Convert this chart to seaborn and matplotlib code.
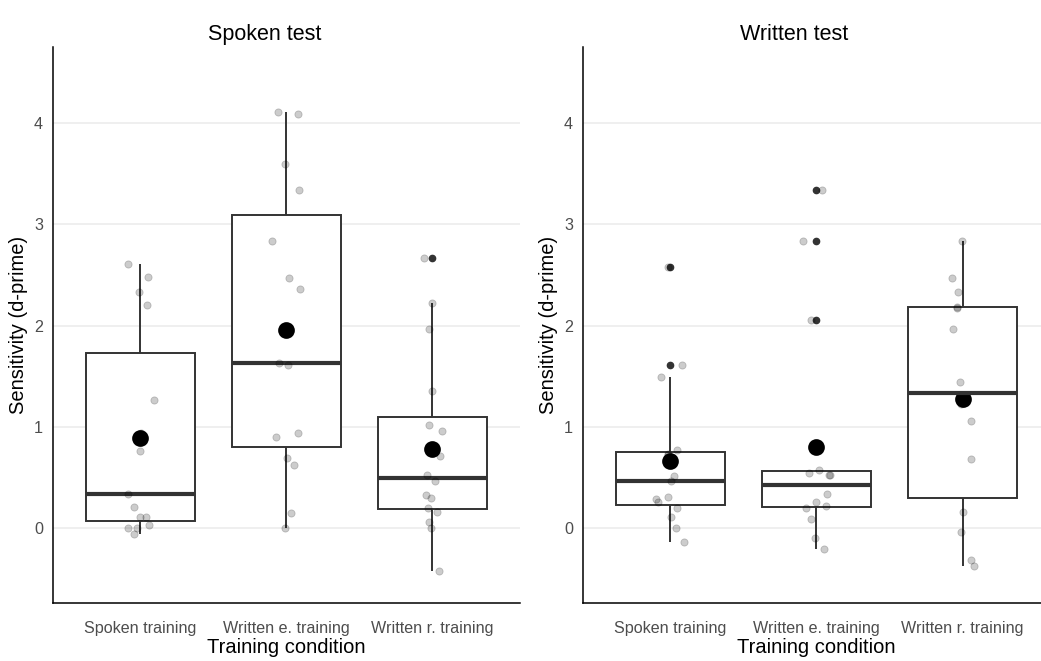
# Sensitivity (d-prime) per training condition, spoken vs written test
import numpy as np
import pandas as pd
import matplotlib
matplotlib.use("Agg")
import matplotlib.pyplot as plt
import seaborn as sns

conditions = ["Spoken training", "Written e. training", "Written r. training"]
tests = ["Spoken test", "Written test"]

# d-prime values, one list per test and condition
spoken_test_spoken = [2.609, 2.474, 2.332, 2.200, 1.262, 0.942, 0.758, 0.339,
                      0.211, 0.109, 0.109, 0.030, 0.0, 0.0, -0.059]
spoken_test_written_e = [4.091, 4.111, 3.594, 3.337, 2.836, 2.467, 2.365, 1.634,
                         1.607, 0.935, 0.899, 0.698, 0.626, 0.155, 0.0]
spoken_test_written_r = [2.665, 2.220, 1.966, 1.350, 1.018, 0.962, 0.711, 0.524,
                         0.468, 0.333, 0.303, 0.198, 0.161, 0.059, 0.0, -0.422]

written_test_spoken = [2.579, 1.607, 1.489, 0.774, 0.731, 0.718, 0.514, 0.468,
                       0.310, 0.287, 0.257, 0.201, 0.112, 0.0, -0.138]
written_test_written_e = [3.337, 2.829, 2.059, 0.573, 0.550, 0.524, 0.524, 0.339,
                          0.257, 0.224, 0.204, 0.096, -0.099, -0.204]
written_test_written_r = [2.836, 2.467, 2.332, 2.174, 2.180, 1.966, 1.439, 1.222,
                          1.057, 0.685, 0.165, -0.040, -0.313, -0.372]

y_ticks = [0, 1, 2, 3, 4]

# build a long table
rows = []
values_by_test = {
    "Spoken test": [spoken_test_spoken, spoken_test_written_e, spoken_test_written_r],
    "Written test": [written_test_spoken, written_test_written_e, written_test_written_r],
}
for test in tests:
    for cond, vals in zip(conditions, values_by_test[test]):
        for v in vals:
            rows.append({"test": test, "condition": cond, "dprime": v})
df = pd.DataFrame(rows)

sns.set_theme(style="white")
plt.rcParams["font.family"] = ["Liberation Sans", "DejaVu Sans"]

np.random.seed(7)
fig = plt.figure(figsize=(10.41, 6.61), dpi=100)
positions = [[0.0506, 0.0873, 0.449, 0.842], [0.5598, 0.0873, 0.449, 0.842]]

for test, pos in zip(tests, positions):
    ax = fig.add_axes(pos)
    sub = df[df["test"] == test]
    ax.set_axisbelow(True)
    ax.yaxis.grid(True, color="#ebebeb", linewidth=1.1)
    sns.boxplot(data=sub, x="condition", y="dprime", order=conditions, ax=ax,
                width=0.75, color="white", linecolor="#333333", linewidth=1.4,
                showcaps=False, whis=1.5,
                medianprops={"linewidth": 3, "color": "#333333"},
                flierprops={"marker": "o", "markerfacecolor": "#333333",
                            "markeredgecolor": "#333333", "markersize": 4.5})
    sns.stripplot(data=sub, x="condition", y="dprime", order=conditions, ax=ax,
                  color="black", alpha=0.2, size=5.2, jitter=0.1,
                  linewidth=0.6, edgecolor="black")
    sns.pointplot(data=sub, x="condition", y="dprime", order=conditions, ax=ax,
                  estimator="mean", errorbar=None, linestyle="none",
                  color="black", markers="o", markersize=10)

    ax.set_xlim(-0.6, 2.6)
    ax.set_ylim(-0.74, 4.75)
    ax.set_yticks(y_ticks)
    ax.set_title(test, fontsize=15.5, pad=5, x=0.453, color="black")
    ax.set_xlabel("Training condition", fontsize=14.5, labelpad=1, color="black")
    ax.set_ylabel("Sensitivity (d-prime)", fontsize=14.5, labelpad=4, color="black")
    ax.tick_params(axis="both", length=0, labelsize=11.6, colors="#4d4d4d")
    ax.tick_params(axis="x", pad=13)
    ax.tick_params(axis="y", pad=7)
    for s in ["top", "right"]:
        ax.spines[s].set_visible(False)
    for s in ["left", "bottom"]:
        ax.spines[s].set_color("black")
        ax.spines[s].set_linewidth(1.1)

fig.savefig("out.png", dpi=100)
